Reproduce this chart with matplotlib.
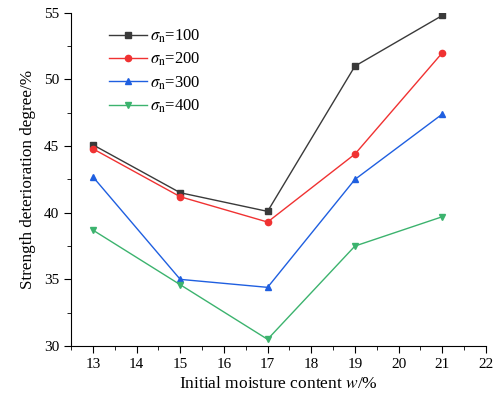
import matplotlib.pyplot as plt
from matplotlib.ticker import MultipleLocator

plt.rcParams['font.family'] = 'Liberation Serif'
plt.rcParams['mathtext.fontset'] = 'stix'

moisture = [13, 15, 17, 19, 21]
s100 = [45.1, 41.5, 40.1, 51.0, 54.8]
s200 = [44.8, 41.2, 39.3, 44.4, 52.0]
s300 = [42.7, 35.0, 34.4, 42.5, 47.4]
s400 = [38.7, 34.6, 30.5, 37.5, 39.7]
labels = [r'$\sigma_{\rm n}$=100', r'$\sigma_{\rm n}$=200',
          r'$\sigma_{\rm n}$=300', r'$\sigma_{\rm n}$=400']

fig = plt.figure(figsize=(5, 4), dpi=100)
ax = fig.add_axes([0.142, 0.135, 0.83, 0.833])

styles = [('#3a3a3a', 's'), ('#f03232', 'o'), ('#1f5fe0', '^'), ('#3cb36e', 'v')]
for ys, (c, m), lab in zip([s100, s200, s300, s400], styles, labels):
    ax.plot(moisture, ys, color=c, marker=m, markersize=4.5, linewidth=1, label=lab)

ax.set_xlim(12.5, 22)
ax.set_ylim(30, 55)
ax.xaxis.set_major_locator(MultipleLocator(1))
ax.xaxis.set_minor_locator(MultipleLocator(0.5))
ax.yaxis.set_major_locator(MultipleLocator(5))
ax.yaxis.set_minor_locator(MultipleLocator(2.5))
ax.spines['top'].set_visible(False)
ax.spines['right'].set_visible(False)
ax.tick_params(which='major', direction='out', length=5, labelsize=11)
ax.tick_params(which='minor', direction='out', length=3)

ax.set_xlabel(r'Initial moisture content $w$/%', fontsize=12.5)
ax.set_ylabel('Strength deterioration degree/%', fontsize=12.3, labelpad=6)

ax.legend(loc='upper left', frameon=False, fontsize=12, handlelength=2.3,
          handletextpad=0.2, bbox_to_anchor=(0.055, 1.0), labelspacing=0.35)

fig.savefig('out.png', dpi=100)
